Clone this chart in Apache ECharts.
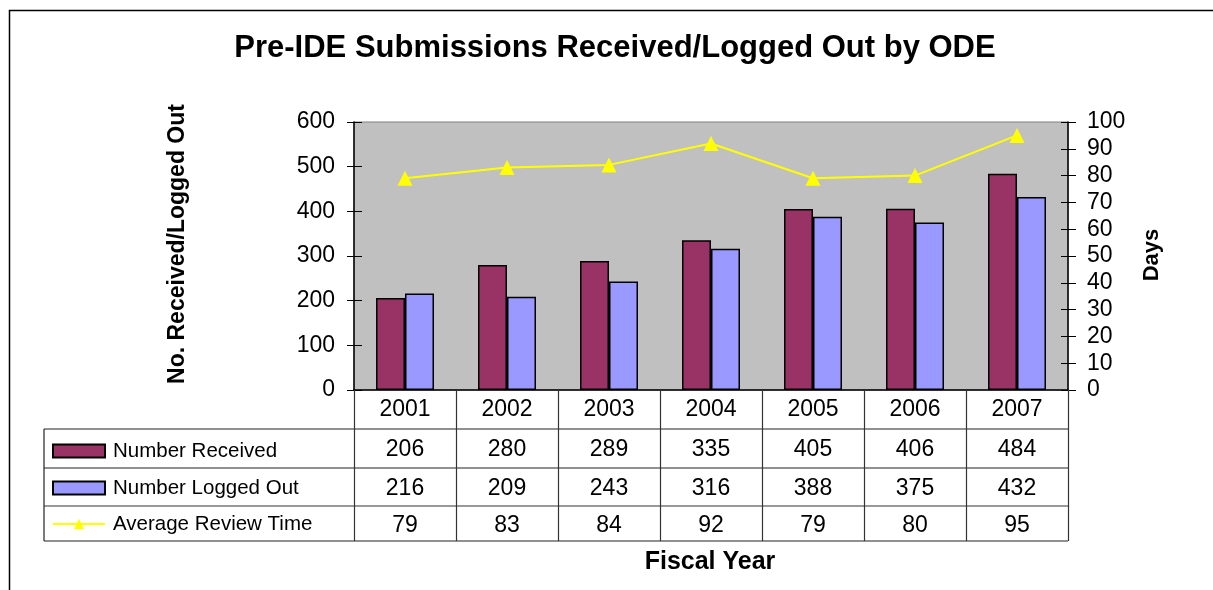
<!DOCTYPE html>
<html>
<head>
<meta charset="utf-8">
<script src="https://cdn.jsdelivr.net/npm/echarts@6/dist/echarts.min.js"></script>
<style>html,body{margin:0;padding:0;background:#fff}#c{width:1213px;height:590px}</style>
</head>
<body>
<div id="c"></div>
<script>
const titleText = 'Pre-IDE Submissions Received/Logged Out by ODE';
const leftAxisTitle = 'No. Received/Logged Out';
const rightAxisTitle = 'Days';
const xAxisTitle = 'Fiscal Year';
const years = ['2001', '2002', '2003', '2004', '2005', '2006', '2007'];
const seriesNames = ['Number Received', 'Number Logged Out', 'Average Review Time'];
const received = [206, 280, 289, 335, 405, 406, 484];
const loggedOut = [216, 209, 243, 316, 388, 375, 432];
const avgReview = [79, 83, 84, 92, 79, 80, 95];
const leftAxisRange = [0, 600, 100];
const rightAxisRange = [0, 100, 10];

const FONT = '"Liberation Sans", Arial, sans-serif';
const chart = echarts.init(document.getElementById('c'), null, {renderer: 'canvas'});

function legendCfg(name, top, icon) {
  const cfg = {
    data: [icon ? {name: name, icon: icon} : name], left: 52, top: top, orient: 'horizontal', padding: 0,
    itemWidth: 52, itemHeight: 13, itemGap: 0, selectedMode: false,
    textStyle: {fontFamily: FONT, fontSize: 20.5, color: '#000', padding: [0, 0, 0, 3], lineHeight: 22}
  };
  return cfg;
}

const tickLabelStyle = {fontFamily: FONT, fontSize: 23, color: '#000'};

chart.setOption({
  animation: false,
  backgroundColor: '#fff',
  grid: {left: 354, right: 145, top: 122, bottom: 200, show: true, backgroundColor: '#C0C0C0', borderColor: '#808080', borderWidth: 1},
  legend: [
    legendCfg(seriesNames[0], 440, 'rect'),
    legendCfg(seriesNames[1], 477, 'rect'),
    legendCfg(seriesNames[2], 513, null)
  ],
  xAxis: {
    type: 'category', data: years, boundaryGap: true,
    axisLine: {show: true, lineStyle: {color: '#000', width: 1.5}},
    axisTick: {show: true, interval: 0, length: 151, lineStyle: {color: '#333', width: 1.2}},
    axisLabel: {
      interval: 0, margin: 1, hideOverlap: false,
      formatter: function (v, i) {
        return '{h|' + v + '}\n{a|' + received[i] + '}\n{b|' + loggedOut[i] + '}\n{c|' + avgReview[i] + '}';
      },
      rich: {
        h: {fontFamily: FONT, fontSize: 23, color: '#000', lineHeight: 38, height: 38},
        a: {fontFamily: FONT, fontSize: 23, color: '#000', lineHeight: 41, height: 41},
        b: {fontFamily: FONT, fontSize: 23, color: '#000', lineHeight: 37, height: 37},
        c: {fontFamily: FONT, fontSize: 23, color: '#000', lineHeight: 37, height: 37}
      }
    },
    splitLine: {show: false}
  },
  yAxis: [
    {type: 'value', position: 'left', min: leftAxisRange[0], max: leftAxisRange[1], interval: leftAxisRange[2],
     axisLine: {show: true, lineStyle: {color: '#000', width: 1.5}},
     axisTick: {show: true, length: 7, lineStyle: {color: '#000'}},
     axisLabel: Object.assign({margin: 19}, tickLabelStyle),
     splitLine: {show: false}},
    {type: 'value', position: 'right', min: rightAxisRange[0], max: rightAxisRange[1], interval: rightAxisRange[2],
     axisLine: {show: true, lineStyle: {color: '#000', width: 1.5}},
     axisTick: {show: true, length: 8, lineStyle: {color: '#000'}},
     axisLabel: Object.assign({margin: 19}, tickLabelStyle),
     splitLine: {show: false}},
    {type: 'value', position: 'left', min: leftAxisRange[0], max: leftAxisRange[1], interval: leftAxisRange[2],
     axisLine: {show: false}, axisLabel: {show: false}, splitLine: {show: false},
     axisTick: {show: true, inside: true, length: 8, lineStyle: {color: '#000'}}},
    {type: 'value', position: 'right', min: rightAxisRange[0], max: rightAxisRange[1], interval: rightAxisRange[2],
     axisLine: {show: false}, axisLabel: {show: false}, splitLine: {show: false},
     axisTick: {show: true, inside: true, length: 7, lineStyle: {color: '#000'}}}
  ],
  series: [
    {name: seriesNames[0], type: 'bar', data: received, yAxisIndex: 0, barWidth: 29, barGap: '0%',
     itemStyle: {color: '#993366', borderColor: '#000', borderWidth: 1.5}},
    {name: seriesNames[1], type: 'bar', data: loggedOut, yAxisIndex: 0, barWidth: 29, barGap: '0%',
     itemStyle: {color: '#9999FF', borderColor: '#000', borderWidth: 1.5}},
    {name: seriesNames[2], type: 'line', data: avgReview, yAxisIndex: 1,
     symbol: 'triangle', symbolSize: 15, showSymbol: true,
     lineStyle: {color: '#FFFF00', width: 2}, itemStyle: {color: '#FFFF00'}}
  ],
  graphic: [
    {type: 'rect', shape: {x: 9.5, y: 10.5, width: 1400, height: 800}, style: {fill: 'none', stroke: '#000', lineWidth: 1.5}, silent: true, z: -1},
    {type: 'text', x: 615, y: 48, style: {text: titleText, font: 'bold 31px ' + FONT, fill: '#000', textAlign: 'center', textVerticalAlign: 'middle'}},
    {type: 'text', x: 178, y: 244, rotation: Math.PI / 2, style: {text: leftAxisTitle, font: 'bold 23px ' + FONT, fill: '#000', textAlign: 'center', textVerticalAlign: 'middle'}},
    {type: 'text', x: 1152, y: 255, rotation: Math.PI / 2, style: {text: rightAxisTitle, font: 'bold 22px ' + FONT, fill: '#000', textAlign: 'center', textVerticalAlign: 'middle'}},
    {type: 'text', x: 710, y: 562, style: {text: xAxisTitle, font: 'bold 25px ' + FONT, fill: '#000', textAlign: 'center', textVerticalAlign: 'middle'}},
    {type: 'line', shape: {x1: 44, y1: 429, x2: 1068, y2: 429}, style: {stroke: '#222', lineWidth: 1.2}},
    {type: 'line', shape: {x1: 44, y1: 468, x2: 1068, y2: 468}, style: {stroke: '#222', lineWidth: 1.2}},
    {type: 'line', shape: {x1: 44, y1: 506, x2: 1068, y2: 506}, style: {stroke: '#777', lineWidth: 1.5}},
    {type: 'line', shape: {x1: 44, y1: 541, x2: 1068, y2: 541}, style: {stroke: '#222', lineWidth: 1.2}},
    {type: 'line', shape: {x1: 44, y1: 429, x2: 44, y2: 541}, style: {stroke: '#222', lineWidth: 1.2}}
  ]
});
</script>
</body>
</html>
